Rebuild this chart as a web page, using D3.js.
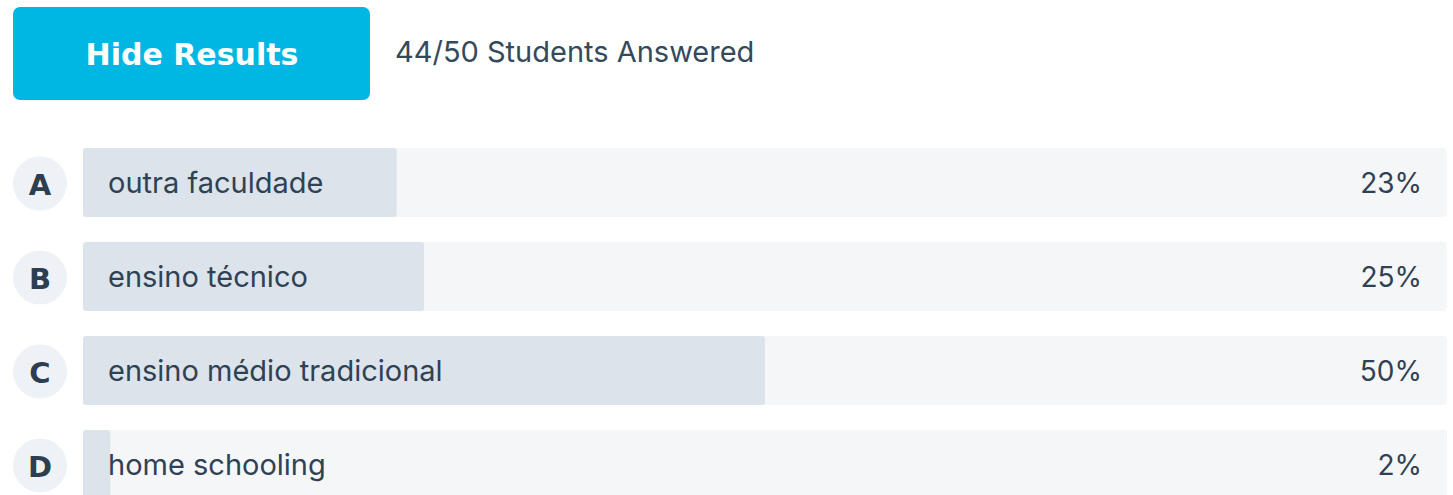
<!DOCTYPE html>
<html>
<head>
<meta charset="utf-8">
<script src="https://cdn.jsdelivr.net/npm/d3@7"></script>
<style>
  body { margin: 0; background: #fff; }
  svg { display: block; }
</style>
</head>
<body>
<div id="chart"></div>
<script>
var letters = ['A', 'B', 'C', 'D'];
var answers = ['outra faculdade', 'ensino técnico', 'ensino médio tradicional', 'home schooling'];
var percents = [23, 25, 50, 2];
var answered = 44;
var total = 50;

var width = 1453, height = 495;

var svg = d3.select('#chart').append('svg')
    .attr('width', width)
    .attr('height', height);

// header: button + count
svg.append('rect')
    .attr('x', 13).attr('y', 7)
    .attr('width', 357).attr('height', 93)
    .attr('rx', 7)
    .attr('fill', '#00b6e3');

svg.append('text')
    .attr('x', 192).attr('y', 65)
    .attr('text-anchor', 'middle')
    .attr('font-family', '"DejaVu Sans", sans-serif')
    .attr('font-weight', 700)
    .attr('font-size', 30)
    .attr('fill', '#fff')
    .text('Hide Results');

svg.append('text')
    .attr('x', 395).attr('y', 62)
    .attr('font-family', 'Inter, "Noto Sans", sans-serif')
    .attr('font-size', 29)
    .attr('fill', '#34495c')
    .text(answered + '/' + total + ' Students Answered');

// scales
var x = d3.scaleLinear()
    .domain([0, 100])
    .range([83, 1447]);

var y = d3.scaleBand()
    .domain(letters)
    .range([148, 148 + 94 * 3 + 69])
    .paddingInner(25 / 94)
    .paddingOuter(0)
    .align(0);

var rows = svg.selectAll('.row')
    .data(letters.map(function(l, i) {
      return {letter: l, answer: answers[i], pct: percents[i]};
    }))
    .enter().append('g')
    .attr('class', 'row')
    .attr('transform', function(d) { return 'translate(0,' + y(d.letter) + ')'; });

var bh = y.bandwidth();

rows.append('circle')
    .attr('cx', 40)
    .attr('cy', bh / 2 + 1)
    .attr('r', 27)
    .attr('fill', '#eef1f5');

rows.append('text')
    .attr('x', 40)
    .attr('y', bh / 2 + 12)
    .attr('text-anchor', 'middle')
    .attr('font-family', '"DejaVu Sans", sans-serif')
    .attr('font-weight', 700)
    .attr('font-size', 29)
    .attr('fill', '#2c3e50')
    .text(function(d) { return d.letter; });

rows.append('rect')
    .attr('x', x(0))
    .attr('y', 0)
    .attr('width', x(100) - x(0))
    .attr('height', bh)
    .attr('rx', 4)
    .attr('fill', '#f5f6f8');

rows.append('rect')
    .attr('x', x(0))
    .attr('y', 0)
    .attr('width', function(d) { return x(d.pct) - x(0); })
    .attr('height', bh)
    .attr('rx', 3)
    .attr('fill', '#dce3ea');

rows.append('text')
    .attr('x', 108)
    .attr('y', bh / 2 + 10)
    .attr('font-family', 'Inter, "Noto Sans", sans-serif')
    .attr('font-size', 29)
    .attr('fill', '#2f4254')
    .text(function(d) { return d.answer; });

rows.append('text')
    .attr('x', 1422)
    .attr('y', bh / 2 + 10)
    .attr('text-anchor', 'end')
    .attr('font-family', 'Inter, "Noto Sans", sans-serif')
    .attr('font-size', 28)
    .attr('fill', '#2f4254')
    .text(function(d) { return d.pct + '%'; });
</script>
</body>
</html>
